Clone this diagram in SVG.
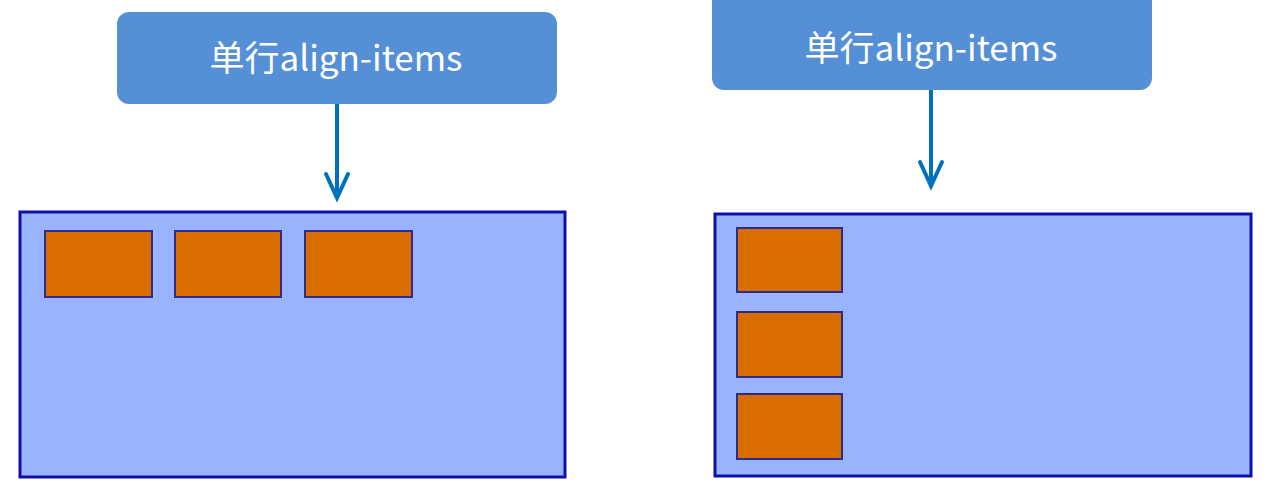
<svg xmlns="http://www.w3.org/2000/svg" width="1267" height="498" viewBox="0 0 1267 498">
<style>
.label{fill:#558fd6;}
.ltext{fill:#ffffff;font-family:"Noto Sans CJK SC","Liberation Sans",sans-serif;font-size:35px;text-anchor:middle;}
.box{fill:#99b3fd;stroke:#1010a8;stroke-width:3;}
.item{fill:#d96d00;stroke:#2e2a8c;stroke-width:2;}
.conn{stroke:#0070c0;stroke-width:4;fill:none;}
.head{stroke:#0070c0;stroke-width:4;fill:none;stroke-linecap:round;stroke-linejoin:miter;}
</style>
<rect width="1267" height="498" fill="#ffffff"/>
<g id="label-left">
<rect class="label" x="117" y="12" width="440" height="92" rx="12"/>
<text class="ltext" x="336" y="71">单行align-items</text>
</g>
<g id="container-left">
<rect class="box" x="20" y="212" width="545" height="265"/>
</g>
<g id="item-left-1"><rect class="item" x="45" y="231" width="107" height="66"/></g>
<g id="item-left-2"><rect class="item" x="175" y="231" width="106" height="66"/></g>
<g id="item-left-3"><rect class="item" x="305" y="231" width="107" height="66"/></g>
<g id="label-right">
<rect class="label" x="712" y="-12" width="440" height="102" rx="12"/>
<text class="ltext" x="931" y="61">单行align-items</text>
</g>
<g id="container-right">
<rect class="box" x="715" y="214" width="536" height="262"/>
</g>
<g id="item-right-1"><rect class="item" x="737" y="228" width="105" height="64"/></g>
<g id="item-right-2"><rect class="item" x="737" y="312" width="105" height="65"/></g>
<g id="item-right-3"><rect class="item" x="737" y="394" width="105" height="65"/></g>
<g id="connectors">
<line class="conn" x1="337" y1="104" x2="337" y2="198"/>
<polyline class="head" points="326,174 337,198 348,174"/>
<line class="conn" x1="931" y1="90" x2="931" y2="186"/>
<polyline class="head" points="920,162 931,186 942,162"/>
</g>
</svg>
